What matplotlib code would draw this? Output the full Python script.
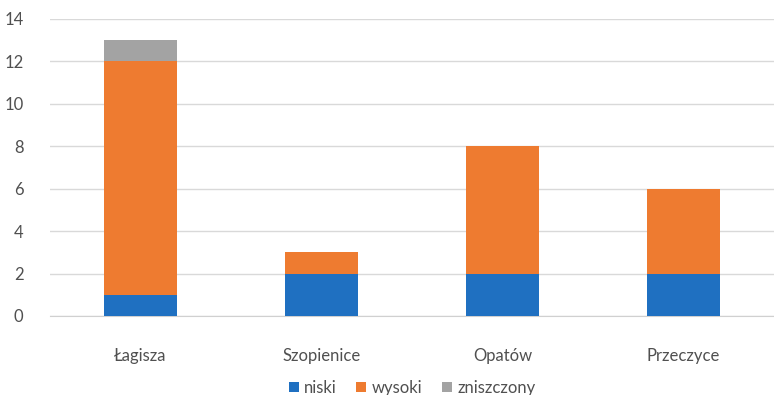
import numpy as np
import matplotlib.pyplot as plt

# data
categories = ['Łagisza', 'Szopienice', 'Opatów', 'Przeczyce']
niski = [1, 2, 2, 2]
wysoki = [11, 1, 6, 4]
zniszczony = [1, 0, 0, 0]

plt.rcParams['font.family'] = ['Lato', 'DejaVu Sans']

fig = plt.figure(figsize=(7.74, 3.95), dpi=100)
ax = fig.add_axes([0.0646, 0.2, 0.9354, 0.752])

x = np.arange(len(categories))
w = 0.4
b1 = np.array(niski)
b2 = b1 + np.array(wysoki)
ax.bar(x, niski, w, color='#1F70C1', label='niski', zorder=3)
ax.bar(x, wysoki, w, bottom=b1, color='#EE7B30', label='wysoki', zorder=3)
ax.bar(x, zniszczony, w, bottom=b2, color='#A3A3A3', label='zniszczony', zorder=3)

ax.set_xlim(-0.5, 3.5)
ax.set_ylim(0, 14)
ax.set_yticks(range(0, 15, 2))
ax.set_xticks(x)
ax.set_xticklabels(categories)
ax.grid(axis='y', color='#D9D9D9', linewidth=1, zorder=0)
for s in ['top', 'right', 'left']:
    ax.spines[s].set_visible(False)
ax.spines['bottom'].set_color('#D0D0D0')
ax.tick_params(axis='both', length=0, labelsize=12, colors='#505050')
ax.tick_params(axis='x', pad=23)
ax.tick_params(axis='y', pad=19)

ax.legend(loc='upper center', bbox_to_anchor=(0.5, -0.165), ncol=3, frameon=False,
          fontsize=12, handlelength=0.6, handleheight=0.6, handletextpad=0.3,
          columnspacing=1.2, labelcolor='#505050')

fig.savefig('out.png')
